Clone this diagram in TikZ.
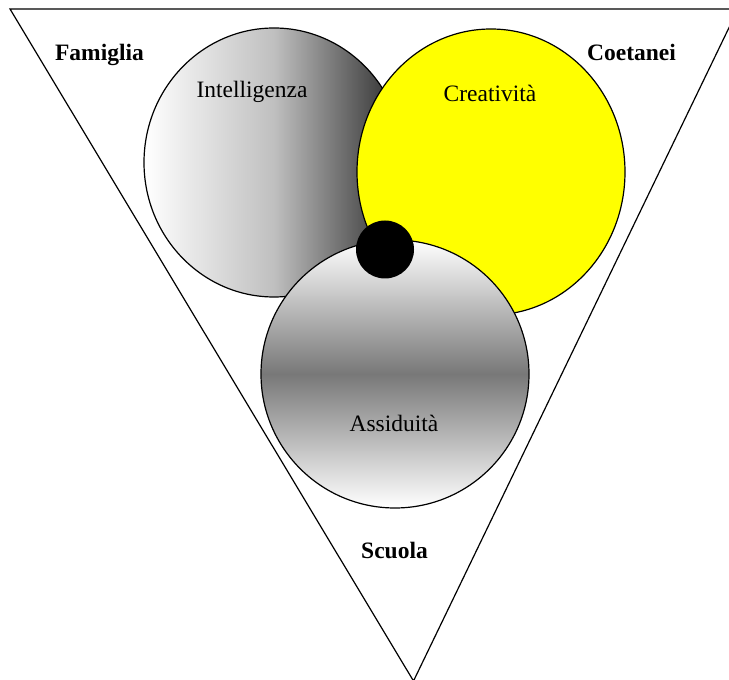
\documentclass[tikz,border=0pt]{standalone}
\usepackage{fontspec}
\setmainfont{Liberation Serif}
\definecolor{creagiallo}{RGB}{255,255,0}

\begin{document}
\begin{tikzpicture}[x=1pt,y=1pt,line width=1.2pt,
    lbl/.style={font=\fontsize{23.5}{28}\selectfont,anchor=base,inner sep=0pt},
    grp/.style={lbl,font=\fontsize{23.5}{28}\selectfont\bfseries}]
          \useasboundingbox (0,0) rectangle (729,680);
          \clip (0,0) rectangle (729,680);
          \draw (10,671) -- (738,671) -- (413.5,-1) -- cycle;
          \shade[draw=black,left color=white,right color=black!85,middle color=black!25] (274,517.5) ellipse (130 and 134.5);
          \draw[fill=creagiallo] (491,508) ellipse (134 and 143);
          \shade[draw=black,top color=white,bottom color=white,middle color=black!53] (395,306) ellipse (134 and 134);
          \fill (385,430.5) circle (29);
          \node[grp] (fam) at (99.5,619) {Famiglia};
          \node[grp] (coe) at (631.5,619) {Coetanei};
          \node[grp] (scu) at (394.5,121) {Scuola};
          \node[lbl] (int) at (252,582) {Intelligenza};
          \node[lbl] (cre) at (490,578.5) {Creatività};
          \node[lbl] (ass) at (394,248.5) {Assiduità};
        \end{tikzpicture}
\end{document}
